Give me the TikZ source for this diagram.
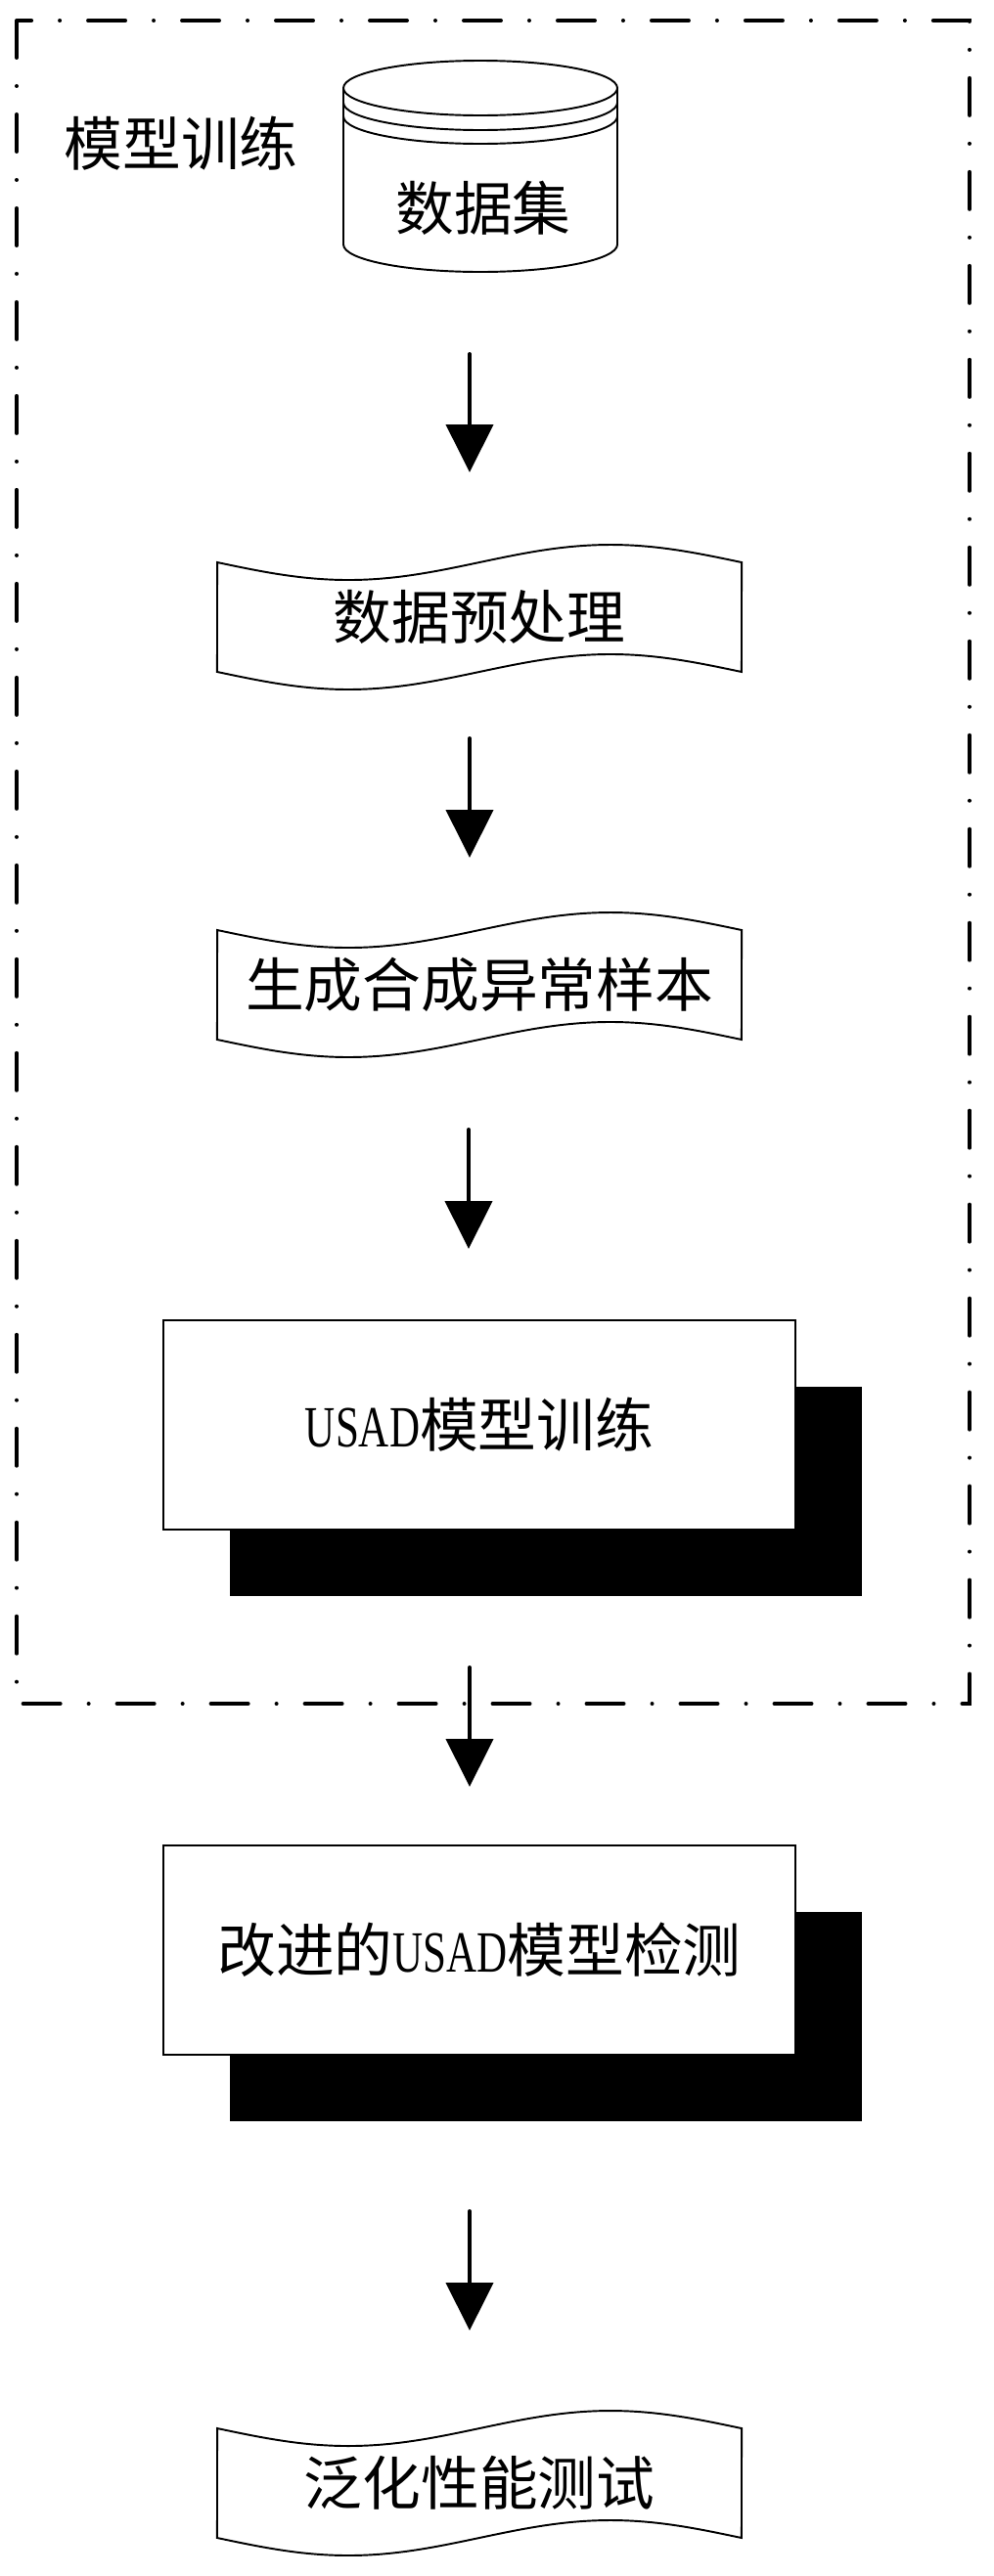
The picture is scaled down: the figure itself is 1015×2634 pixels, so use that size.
\documentclass[tikz,border=0pt]{standalone}
\usepackage{fontspec}
\setmainfont{Noto Sans CJK SC}
\newfontfamily\usadfont[FakeStretch=0.72]{Liberation Serif}
\usetikzlibrary{arrows.meta,shadows}

\begin{document}
\begin{tikzpicture}[x=0.02cm, y=0.02cm,
    line/.style={line width=1.1pt},
    frame/.style={line width=0.08cm, line cap=round,
                  dash pattern=on 0.76cm off 0.58cm on 0cm off 0.58cm},
    tapebox/.style={minimum width=10.72cm, minimum height=2.24cm,
                    inner sep=0pt, outer sep=0pt},
    stepbox/.style={rectangle, draw, line width=1.1pt, fill=white,
                    minimum width=12.92cm, minimum height=4.28cm,
                    drop shadow={shadow xshift=1.36cm, shadow yshift=-1.36cm,
                                 fill=black, opacity=1}},
    arrow/.style={-{Triangle[length=0.98cm, width=0.96cm]},
                  line width=0.08cm, line cap=round},
    font=\fontsize{34}{40}\selectfont
  ]
    \useasboundingbox (0,0) rectangle (1015,-2634);

    % training group
    \draw[frame] (17,-21) rectangle (991,-1742);
    \node (lbl) at (185,-147) {模型训练};

    % data set cylinder
    \draw[line] (351,-90) -- (351,-250) arc (180:360:140 and 28) -- (631,-90);
    \draw[line] (491,-90) ellipse (140 and 28);
    \draw[line] (351,-105) arc (180:360:140 and 28);
    \draw[line] (351,-119) arc (180:360:140 and 28);
    \node (data) at (494,-213) {数据集};

    % steps
    \node[tapebox] (pre) at (490,-631)  {数据预处理};
    \node[tapebox] (gen) at (490,-1007) {生成合成异常样本};
    \node[stepbox] (train)  at (490,-1457) {{\usadfont USAD}模型训练};
    \node[stepbox] (detect) at (490,-1994) {改进的{\usadfont USAD}模型检测};
    \node[tapebox] (test) at (490,-2539) {泛化性能测试};

    % wavy outlines
    \draw[line] (pre.north west) sin ++(134,-18) cos ++(134,18) sin ++(134,18) cos ++(134,-18)
      -- (pre.south east) sin ++(-134,18) cos ++(-134,-18) sin ++(-134,-18) cos ++(-134,18) -- cycle;
    \draw[line] (gen.north west) sin ++(134,-18) cos ++(134,18) sin ++(134,18) cos ++(134,-18)
      -- (gen.south east) sin ++(-134,18) cos ++(-134,-18) sin ++(-134,-18) cos ++(-134,18) -- cycle;
    \draw[line] (test.north west) sin ++(134,-18) cos ++(134,18) sin ++(134,18) cos ++(134,-18)
      -- (test.south east) sin ++(-134,18) cos ++(-134,-18) sin ++(-134,-18) cos ++(-134,18) -- cycle;

    % arrows
    \coordinate (a1) at (480,-362);  \coordinate (b1) at (480,-483);
    \coordinate (a2) at (480,-755);  \coordinate (b2) at (480,-877);
    \coordinate (a3) at (479,-1155); \coordinate (b3) at (479,-1277);
    \coordinate (a4) at (480,-1705); \coordinate (b4) at (480,-1827);
    \coordinate (a5) at (480,-2261); \coordinate (b5) at (480,-2383);
    \draw[arrow] (a1) -- (b1);
    \draw[arrow] (a2) -- (b2);
    \draw[arrow] (a3) -- (b3);
    \draw[arrow] (a4) -- (b4);
    \draw[arrow] (a5) -- (b5);
  \end{tikzpicture}
\end{document}
